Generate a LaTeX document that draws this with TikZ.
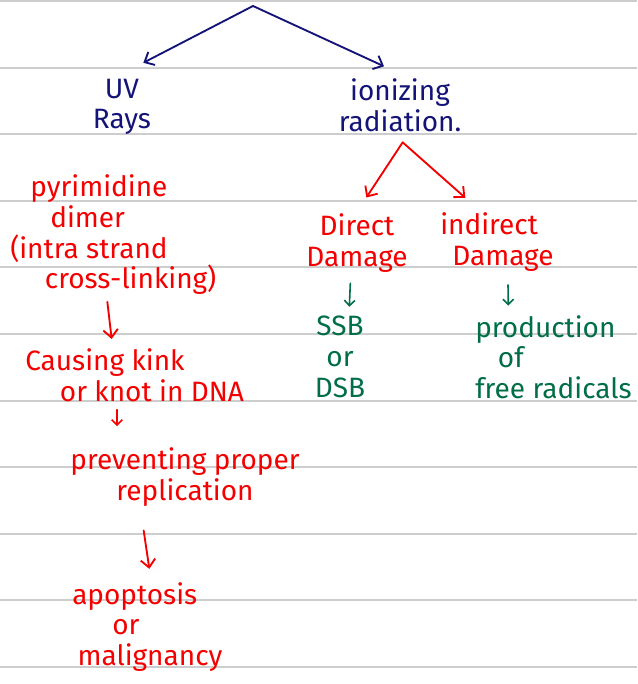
\documentclass[tikz,border=0pt]{standalone}
\usepackage{fontspec}
\setmainfont{Fira Sans}
\usetikzlibrary{arrows.meta,calc}
\definecolor{inknavy}{RGB}{20,20,120}
\definecolor{inkred}{RGB}{245,0,0}
\definecolor{inkgreen}{RGB}{0,110,70}
\definecolor{rulegray}{RGB}{205,205,205}
\tikzset{
	note/.style={inner sep=0pt,align=center,font=\fontsize{21}{23}\selectfont},
	ruled/.style={draw=rulegray,line width=1.5pt},
	pen/.style={line width=1.4pt,line cap=round,-{Straight Barb[length=6pt,width=11pt,line width=1.4pt]}},
	smallpen/.style={line width=1.2pt,line cap=round,-{Straight Barb[length=4pt,width=8pt,line width=1.2pt]}}
}

\begin{document}
\begin{tikzpicture}[x=0.75pt,y=0.75pt,yscale=-1,xscale=1]
		\useasboundingbox (0,0) rectangle (637,684);
		\fill[white] (0,0) rectangle (637,684);
		% lined paper
		\foreach \i in {0,...,10}
			\draw[ruled] (0,{1+66.6*\i}) -- (637,{1+66.6*\i});
		% first level
		\coordinate (top) at (253,6);
		\node[note,text=inknavy] (uv) at (122,107) {UV\\Rays};
		\node[note,text=inknavy] (ion) at (400,105) {ionizing\\radiation.};
		\draw[pen,inknavy] (top) -- ([xshift=16pt,yshift=-12pt]uv.north);
		\draw[pen,inknavy] (top) -- ([xshift=-12pt,yshift=-9pt]ion.north);
		% UV branch
		\node[note,align=left,anchor=west,text=inkred] (dimer) at (10,235) {\hspace{15pt}pyrimidine\\\hspace{30pt}dimer\\(intra strand\\\hspace{26pt}cross-linking)};
		\node[note,align=left,anchor=west,text=inkred] (kink) at (25,375) {Causing kink\\\hspace{26pt}or knot in DNA};
		\node[note,text=inkred] (prev) at (185,477) {preventing proper\\replication};
		\node[note,align=left,anchor=west,text=inkred] (apop) at (72,627) {apoptosis\\\hspace{30pt}or\\\hspace{4pt}malignancy};
		\draw[pen,inkred] ([xshift=73pt,yshift=5pt]dimer.south west) -- ([xshift=65pt,yshift=-7pt]kink.north west);
		\draw[smallpen,inkred] ([xshift=69pt,yshift=6pt]kink.south west) -- ([xshift=-51pt,yshift=-16pt]prev.north);
		\draw[pen,inkred] ([xshift=-31pt,yshift=18pt]prev.south) -- ([xshift=58pt,yshift=-10pt]apop.north west);
		% ionizing branch
		\coordinate (fork) at ([xshift=2pt,yshift=8pt]ion.south);
		\node[note,text=inkred] (direct) at (357,243) {Direct\\Damage};
		\node[note,align=left,anchor=west,text=inkred] (indirect) at (440,242) {indirect\\\hspace{9pt}Damage};
		\draw[pen,inkred] (fork) -- ([xshift=7pt,yshift=-12pt]direct.north);
		\draw[pen,inkred] (fork) -- ([xshift=19pt,yshift=-11pt]indirect.north west);
		\node[note,text=inkgreen] (ssb) at (340,357) {SSB\\or\\DSB};
		\node[note,align=left,anchor=west,text=inkgreen] (radicals) at (475,357) {production\\\hspace{17pt}of\\free radicals};
		\draw[smallpen,inkgreen] ([xshift=-5pt,yshift=8pt]direct.south) -- ([xshift=7pt,yshift=-7pt]ssb.north);
		\draw[smallpen,inkgreen] ([xshift=51pt,yshift=10pt]indirect.south west) -- ([xshift=25pt,yshift=-7pt]radicals.north west);
	\end{tikzpicture}
\end{document}
